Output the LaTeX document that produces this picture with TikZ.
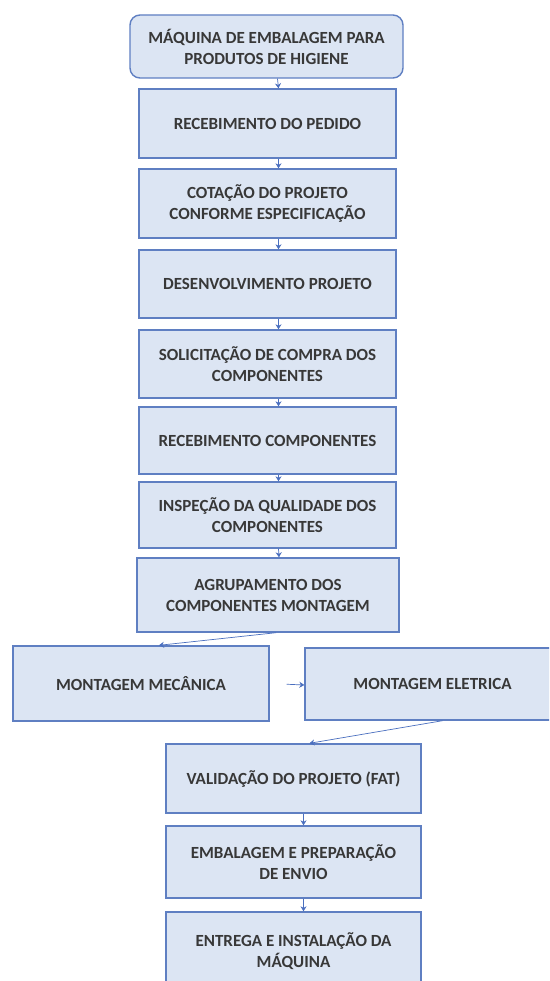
\documentclass[tikz,border=0pt]{standalone}
\usepackage{fontspec}
\setmainfont{Carlito}
\usetikzlibrary{arrows.meta}
\definecolor{boxfill}{HTML}{DCE5F3}
\definecolor{boxline}{HTML}{5F7FC2}
\definecolor{txt}{HTML}{383838}
\definecolor{arr}{HTML}{4A6FBF}
\tikzset{
  stage/.style={draw=boxline, line width=1.4pt, fill=boxfill, text=txt, align=center,
    font=\bfseries\fontsize{17}{21}\selectfont, inner sep=2pt},
  conn/.style={draw=arr, line width=0.7pt, -{Stealth[length=5pt,width=6pt]}},
}
\begin{document}
\begin{tikzpicture}[x=1pt,y=-1pt]
\useasboundingbox (0,0) rectangle (549,981);
\clip (0,0) rectangle (549,981);
\fill[white] (0,0) rectangle (549,981);
\node[stage, rounded corners=10pt, minimum width=273pt, minimum height=63pt] (b1) at (266.5,46.5) {MÁQUINA DE EMBALAGEM PARA\\PRODUTOS DE HIGIENE};
\node[stage, minimum width=257pt, minimum height=69pt] (b2) at (267.5,123.5) {RECEBIMENTO DO PEDIDO};
\node[stage, minimum width=257pt, minimum height=69pt] (b3) at (267.5,203.5) {COTAÇÃO DO PROJETO\\CONFORME ESPECIFICAÇÃO};
\node[stage, minimum width=257pt, minimum height=68pt] (b4) at (267.5,284) {DESENVOLVIMENTO PROJETO};
\node[stage, minimum width=257pt, minimum height=68pt] (b5) at (267.5,364) {SOLICITAÇÃO DE COMPRA DOS\\COMPONENTES};
\node[stage, minimum width=257pt, minimum height=67pt] (b6) at (267.5,440.5) {RECEBIMENTO COMPONENTES};
\node[stage, minimum width=257pt, minimum height=66pt] (b7) at (267.5,515) {INSPEÇÃO DA QUALIDADE DOS\\COMPONENTES};
\node[stage, minimum width=262pt, minimum height=74pt] (b8) at (268,595) {AGRUPAMENTO DOS\\COMPONENTES MONTAGEM};
\node[stage, minimum width=256pt, minimum height=75pt] (mec) at (141,683.5) {MONTAGEM MECÂNICA};
\node[stage, minimum width=255pt, minimum height=72pt] (ele) at (432.5,684) {MONTAGEM ELETRICA};
\node[stage, minimum width=255pt, minimum height=69pt] (val) at (293.5,778.5) {VALIDAÇÃO DO PROJETO (FAT)};
\node[stage, minimum width=255pt, minimum height=72pt] (emb) at (293.5,862) {EMBALAGEM E PREPARAÇÃO\\DE ENVIO};
\node[stage, minimum width=255pt, minimum height=78pt] (ent) at (293.5,951) {ENTREGA E INSTALAÇÃO DA\\MÁQUINA};
\foreach \a/\b in {b1/b2,b2/b3,b3/b4,b4/b5,b5/b6,b6/b7,b7/b8}
  \draw[conn] ([xshift=11pt]\a.south) -- ([xshift=11pt]\b.north);
\foreach \a/\b in {val/emb,emb/ent}
  \draw[conn] ([xshift=10pt]\a.south) -- ([xshift=10pt]\b.north);
\draw[conn] ([xshift=8pt]b8.south) -- ([xshift=18pt]mec.north);
\draw[conn, shorten <=17pt] (mec.east) -- ([yshift=-1pt]ele.west);
\draw[conn] ([xshift=10pt]ele.south) -- ([xshift=16pt]val.north);
\end{tikzpicture}
\end{document}
